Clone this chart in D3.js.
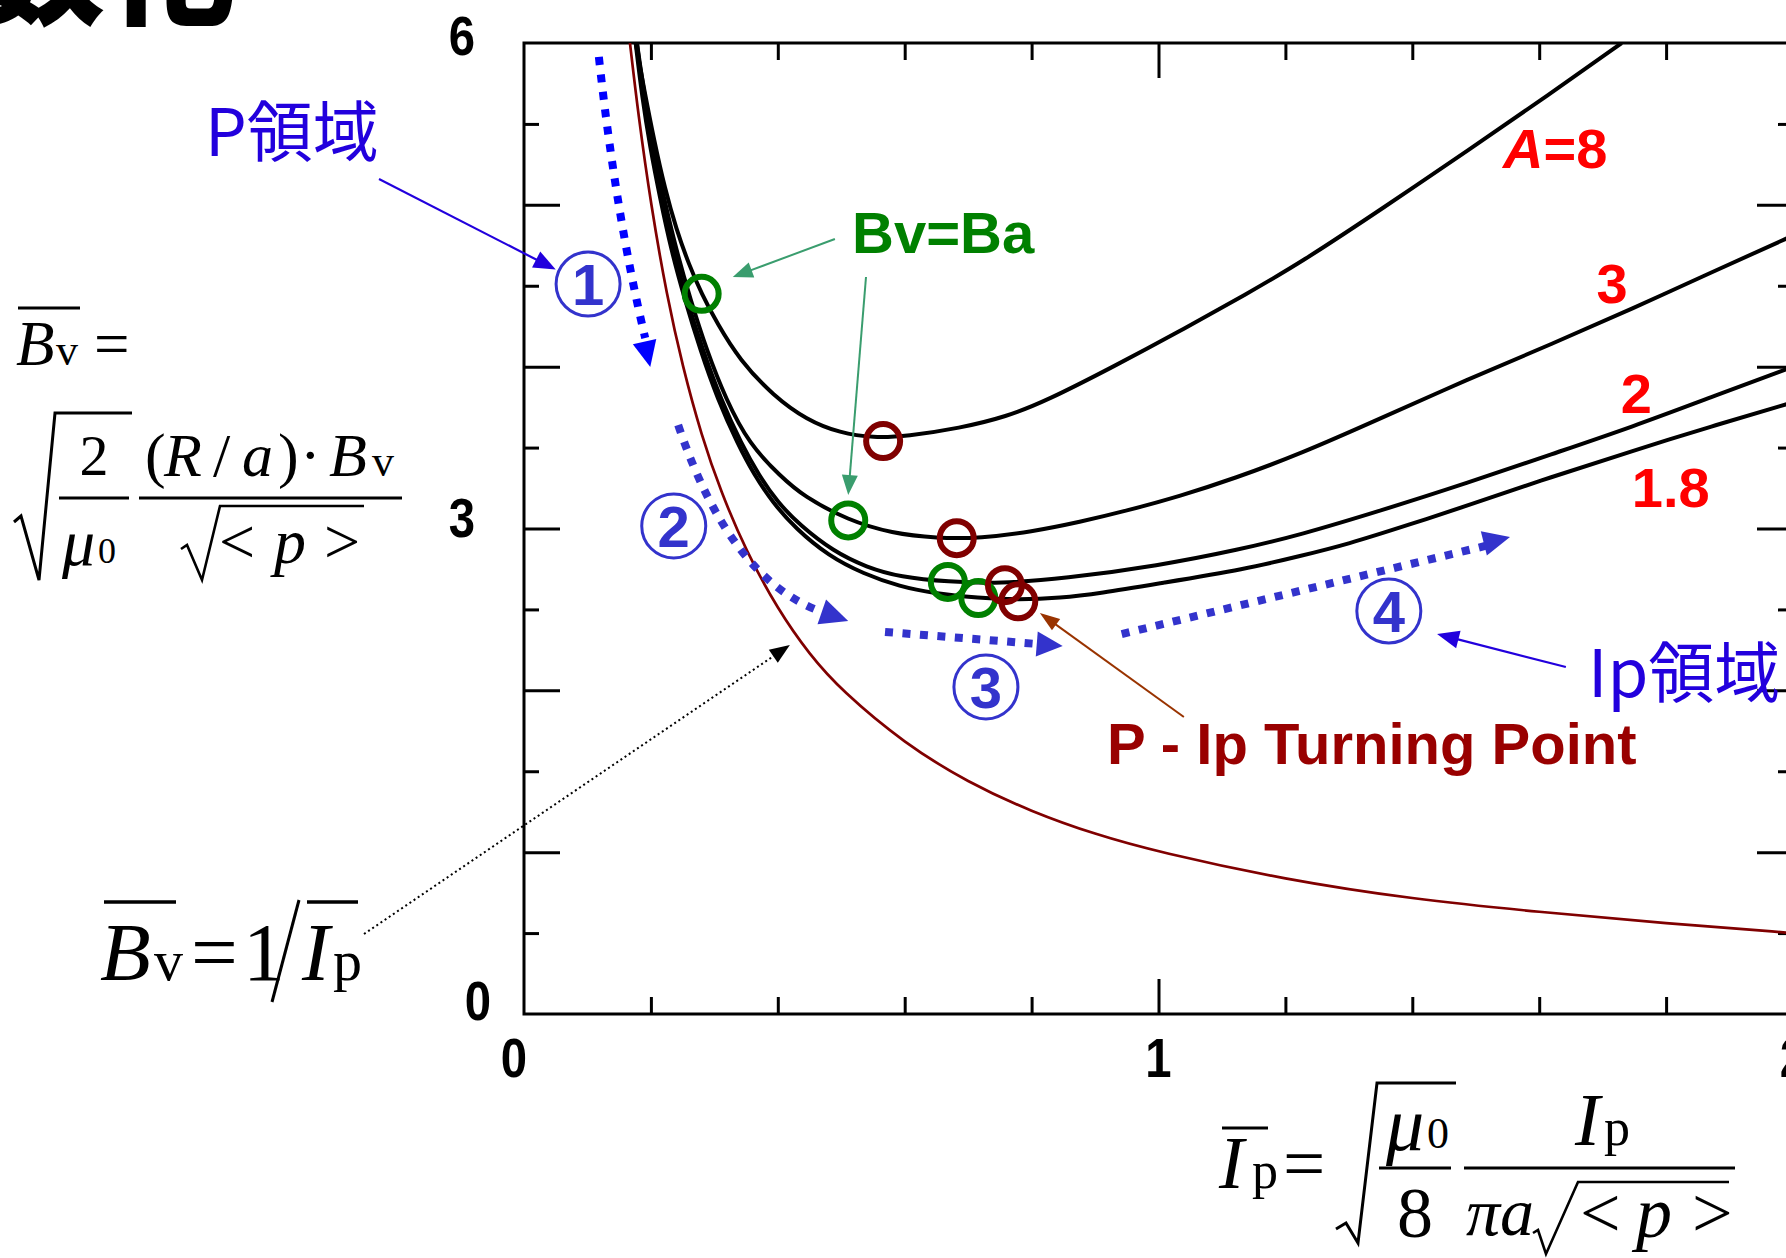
<!DOCTYPE html>
<html>
<head>
<meta charset="utf-8">
<script src="https://cdn.jsdelivr.net/npm/d3@7"></script>
<style>
  html, body { margin: 0; padding: 0; background: #fff; overflow: hidden; }
  svg { display: block; }
</style>
</head>
<body>
<div id="chart"></div>
<script>
const W = 1786, H = 1258;

// ---- data (Ip bar, Bv bar) ----
const xTickValues = [0, 1, 2];
const xTickLabels = ["0", "1", "2"];
const yTickValues = [0, 3, 6];
const yTickLabels = ["0", "3", "6"];

const curveA8 = [[0.176,6.00],[0.190,5.70],[0.205,5.40],[0.222,5.10],[0.240,4.85],[0.260,4.63],
  [0.280,4.45],[0.304,4.27],[0.340,4.04],[0.393,3.82],[0.446,3.67],[0.498,3.59],[0.551,3.56],
  [0.603,3.57],[0.687,3.62],[0.760,3.69],[0.824,3.79],[0.929,4.00],[1.034,4.22],[1.139,4.45],
  [1.223,4.64],[1.354,4.98],[1.489,5.34],[1.615,5.68],[1.730,6.00]];
const curveA3 = [[0.178,6.00],[0.190,5.67],[0.204,5.35],[0.220,5.05],[0.240,4.72],[0.262,4.42],
  [0.288,4.10],[0.318,3.80],[0.355,3.52],[0.405,3.32],[0.440,3.20],[0.511,3.05],[0.580,2.97],
  [0.650,2.94],[0.720,2.94],[0.800,2.98],[0.876,3.04],[0.950,3.11],[1.034,3.20],[1.120,3.31],
  [1.223,3.46],[1.350,3.68],[1.486,3.92],[1.620,4.14],[1.748,4.36],[1.870,4.58],[2.000,4.81]];
const curveA2 = [[0.178,6.00],[0.188,5.67],[0.201,5.35],[0.216,5.05],[0.235,4.72],[0.256,4.42],
  [0.282,4.10],[0.310,3.80],[0.343,3.52],[0.370,3.33],[0.400,3.16],[0.435,3.02],[0.487,2.86],
  [0.540,2.76],[0.593,2.70],[0.668,2.67],[0.750,2.66],[0.850,2.69],[1.000,2.77],[1.128,2.87],
  [1.223,2.96],[1.350,3.11],[1.486,3.28],[1.620,3.46],[1.748,3.63],[1.870,3.81],[2.000,4.00]];
const curveA18 = [[0.176,6.00],[0.186,5.67],[0.199,5.35],[0.214,5.05],[0.232,4.72],[0.253,4.42],
  [0.278,4.10],[0.305,3.80],[0.337,3.52],[0.363,3.33],[0.392,3.16],[0.428,3.00],[0.480,2.83],
  [0.535,2.72],[0.593,2.64],[0.645,2.60],[0.716,2.57],[0.780,2.56],[0.845,2.57],[0.908,2.60],
  [1.000,2.66],[1.139,2.75],[1.223,2.83],[1.296,2.90],[1.400,3.03],[1.486,3.14],[1.620,3.32],
  [1.748,3.48],[1.870,3.63],[2.000,3.78]];
// Bv = 1/Ip line
const curveInverse = [[0.167,6.00],[0.180,5.56],[0.200,5.00],[0.225,4.44],[0.250,4.00],[0.280,3.57],
  [0.310,3.23],[0.350,2.86],[0.400,2.50],[0.450,2.22],[0.500,2.00],[0.600,1.67],[0.700,1.43],
  [0.800,1.25],[0.900,1.11],[1.000,1.00],[1.200,0.83],[1.400,0.71],[1.600,0.63],[1.800,0.56],[2.000,0.50]];

const aspectLabels = ["A=8", "3", "2", "1.8"];
const bvBaPoints = [[0.280,4.45],[0.511,3.05],[0.668,2.67],[0.716,2.57]];
const turningPoints = [[0.566,3.54],[0.682,2.94],[0.758,2.65],[0.779,2.55]];

// ---- layout ----
const x = d3.scaleLinear().domain([0, 2]).range([524, 1793]);
const y = d3.scaleLinear().domain([0, 6]).range([1014, 43]);
const P = (vx, vy) => [x(vx), y(vy)];

const SERIF = "'Liberation Serif','Times New Roman',serif";
const SANS = "'Liberation Sans',Arial,sans-serif";
const CJK = "'Noto Sans CJK JP','Noto Sans',sans-serif";
const BLUE = "#3333cc", INDIGO = "#2200dd";

const svg = d3.select("#chart").append("svg")
              .attr("width", W)
              .attr("height", H);
svg.append("rect").attr("width", W).attr("height", H).attr("fill", "#fff");

// cut-off title at top left
svg.append("text")
   .attr("x", -25).attr("y", 14)
   .attr("font-family", CJK).attr("font-weight", 900).attr("font-size", 130)
   .text("数化");

// ---- ticks ----
function tickAxis(g, axis) {
  g.call(axis);
  g.select(".domain").remove();
  g.selectAll("text").remove();
  g.selectAll("line").attr("stroke", "#000").attr("stroke-width", 3);
}
const xMinor = d3.range(1, 10).map(i => i / 5).filter(v => v !== 1);
const yHalf = d3.range(0, 6).map(i => i + 0.5);
const yInt = [1, 2, 3, 4, 5];

svg.append("g").attr("transform", `translate(0,${y(0)})`).call(tickAxis, d3.axisTop(x).tickValues(xMinor).tickSize(17));
svg.append("g").attr("transform", `translate(0,${y(0)})`).call(tickAxis, d3.axisTop(x).tickValues([1]).tickSize(35));
svg.append("g").attr("transform", `translate(0,${y(6)})`).call(tickAxis, d3.axisBottom(x).tickValues(xMinor).tickSize(17));
svg.append("g").attr("transform", `translate(0,${y(6)})`).call(tickAxis, d3.axisBottom(x).tickValues([1]).tickSize(35));
svg.append("g").attr("transform", `translate(${x(0)},0)`).call(tickAxis, d3.axisRight(y).tickValues(yHalf).tickSize(15));
svg.append("g").attr("transform", `translate(${x(0)},0)`).call(tickAxis, d3.axisRight(y).tickValues(yInt).tickSize(36));
svg.append("g").attr("transform", `translate(${x(2)},0)`).call(tickAxis, d3.axisLeft(y).tickValues(yHalf).tickSize(15));
svg.append("g").attr("transform", `translate(${x(2)},0)`).call(tickAxis, d3.axisLeft(y).tickValues(yInt).tickSize(36));

svg.append("rect")
   .attr("x", x(0)).attr("y", y(6))
   .attr("width", x(2) - x(0)).attr("height", y(0) - y(6))
   .attr("fill", "none").attr("stroke", "#000").attr("stroke-width", 3);

// tick labels (bold, a little condensed)
function tickLabel(cx, base, str) {
  svg.append("text")
     .attr("transform", `translate(${cx},${base}) scale(0.86,1)`)
     .attr("text-anchor", "middle")
     .attr("font-family", SANS).attr("font-weight", "bold").attr("font-size", 55)
     .text(str);
}
xTickValues.forEach((v, i) => tickLabel(x(v) - (v === 0 ? 10 : 0), y(0) + 63, xTickLabels[i]));
yTickValues.forEach((v, i) => tickLabel(v === 0 ? x(0) - 46 : x(0) - 62, y(v) + (v === 0 ? 6 : v === 3 ? 8 : 12), yTickLabels[i]));

// ---- curves ----
svg.append("clipPath").attr("id", "plot-clip")
   .append("rect")
   .attr("x", x(0)).attr("y", y(6))
   .attr("width", x(2) - x(0)).attr("height", y(0) - y(6));

const line = d3.line()
               .x(d => x(d[0]))
               .y(d => y(d[1]))
               .curve(d3.curveBasis);

const plot = svg.append("g").attr("clip-path", "url(#plot-clip)");

plot.append("path")
    .attr("d", line(curveInverse))
    .attr("fill", "none").attr("stroke", "#800000").attr("stroke-width", 2.7);

plot.selectAll("path.aspect")
    .data([curveA8, curveA3, curveA2, curveA18])
    .enter().append("path")
    .attr("class", "aspect")
    .attr("d", d => line(d))
    .attr("fill", "none").attr("stroke", "#000").attr("stroke-width", 4);

plot.selectAll("circle.bvba")
    .data(bvBaPoints)
    .enter().append("circle")
    .attr("class", "bvba")
    .attr("cx", d => x(d[0])).attr("cy", d => y(d[1])).attr("r", 17)
    .attr("fill", "none").attr("stroke", "#008000").attr("stroke-width", 6);

plot.selectAll("circle.turn")
    .data(turningPoints)
    .enter().append("circle")
    .attr("class", "turn")
    .attr("cx", d => x(d[0])).attr("cy", d => y(d[1])).attr("r", 17)
    .attr("fill", "none").attr("stroke", "#800000").attr("stroke-width", 6);

// ---- annotations ----
const ann = svg.append("g");

function head(tip, from, len, hw, color) {
  const dx = tip[0] - from[0], dy = tip[1] - from[1], d = Math.hypot(dx, dy);
  const ux = dx / d, uy = dy / d;
  const bx = tip[0] - ux * len, by = tip[1] - uy * len;
  ann.append("path")
     .attr("d", `M${tip[0]},${tip[1]}L${bx - uy * hw},${by + ux * hw}L${bx + uy * hw},${by - ux * hw}Z`)
     .attr("fill", color);
}

function arrow(from, tip, color, width, len, hw, dash) {
  const dx = tip[0] - from[0], dy = tip[1] - from[1], d = Math.hypot(dx, dy);
  const end = [tip[0] - dx / d * len * 0.8, tip[1] - dy / d * len * 0.8];
  ann.append("line")
     .attr("x1", from[0]).attr("y1", from[1]).attr("x2", end[0]).attr("y2", end[1])
     .attr("stroke", color).attr("stroke-width", width)
     .attr("stroke-dasharray", dash || null);
  head(tip, from, len, hw, color);
}

function dotted(pts, tip, color, len, hw) {
  const path = pts.length === 3
    ? `M${pts[0]}Q${pts[1]} ${pts[2]}`
    : `M${pts[0]}L${pts[1]}`;
  ann.append("path")
     .attr("d", path)
     .attr("fill", "none").attr("stroke", color)
     .attr("stroke-width", 8).attr("stroke-dasharray", "8 9.5");
  head(tip, pts[pts.length - 2], len, hw, color);
}

// phase arrows 1..4
dotted([P(0.118, 5.914), P(0.145, 4.937), P(0.191, 4.177)], P(0.199, 3.998), "#0000ff", 26, 12);
dotted([P(0.243, 3.640), P(0.325, 2.682), P(0.470, 2.484)], P(0.511, 2.428), BLUE, 28, 13);
dotted([P(0.569, 2.361), P(0.810, 2.286)], P(0.849, 2.274), BLUE, 26, 12.5);
dotted([P(0.942, 2.348), P(1.515, 2.892)], P(1.554, 2.948), BLUE, 27, 12.5);

// circled phase numbers
const phaseCenters = [[0.101, 4.511], [0.236, 3.016], [0.728, 2.021], [1.363, 2.490]];
phaseCenters.forEach((c, i) => {
  const [cx, cy] = P(c[0], c[1]);
  ann.append("circle").attr("cx", cx).attr("cy", cy).attr("r", 32)
     .attr("fill", "none").attr("stroke", BLUE).attr("stroke-width", 3);
  ann.append("text").attr("x", cx).attr("y", cy + 21)
     .attr("text-anchor", "middle")
     .attr("font-family", SANS).attr("font-weight", "bold").attr("font-size", 58)
     .attr("fill", BLUE).text(String(i + 1));
});

// region labels
ann.append("text").attr("x", 205).attr("y", 156)
   .attr("font-family", CJK).attr("font-size", 66).attr("fill", INDIGO).text("P領域");
arrow([379, 179], P(0.050, 4.600), INDIGO, 2.2, 22, 9);

ann.append("text").attr("x", x(1.677)).attr("y", y(1.959))
   .attr("font-family", CJK).attr("font-size", 66).attr("fill", INDIGO).text("Ip領域");
arrow(P(1.642, 2.144), P(1.439, 2.348), INDIGO, 2.2, 22, 9);

// Bv = Ba
ann.append("text").attr("x", x(0.517)).attr("y", y(4.702))
   .attr("font-family", SANS).attr("font-weight", "bold").attr("font-size", 58)
   .attr("fill", "#008000").text("Bv=Ba");
arrow(P(0.490, 4.789), P(0.329, 4.554), "#3a9d6e", 2, 20, 8);
arrow(P(0.539, 4.554), P(0.511, 3.207), "#3a9d6e", 2, 20, 8);

// turning point
ann.append("text").attr("x", x(0.919)).attr("y", y(1.545))
   .attr("font-family", SANS).attr("font-weight", "bold").attr("font-size", 58)
   .attr("fill", "#990000").text("P - Ip Turning Point");
arrow(P(1.040, 1.835), P(0.813, 2.478), "#993300", 2, 20, 7);

// aspect ratio labels
const aspectPos = [[1.543, 5.228, "start"], [1.715, 4.394, "middle"], [1.753, 3.714, "middle"], [1.746, 3.133, "start"]];
aspectLabels.forEach((lab, i) => {
  const t = ann.append("text").attr("x", x(aspectPos[i][0])).attr("y", y(aspectPos[i][1]))
     .attr("text-anchor", aspectPos[i][2])
     .attr("font-family", SANS).attr("font-weight", "bold").attr("font-size", 56)
     .attr("fill", "#ff0000");
  if (lab.startsWith("A")) {
    t.append("tspan").attr("font-style", "italic").text("A");
    t.append("tspan").text(lab.slice(1));
  } else {
    t.text(lab);
  }
});

// dotted pointer from the Bv = 1/Ip formula
arrow([364, 934], P(0.419, 2.280), "#000", 2, 20, 8, "2 3");

// ---- formulas ----
const fm = svg.append("g").attr("fill", "#000");
function tx(px, py, str, size, italic, anchor) {
  fm.append("text").attr("x", px).attr("y", py)
    .attr("font-family", SERIF).attr("font-size", size)
    .attr("font-style", italic ? "italic" : "normal")
    .attr("text-anchor", anchor || "start")
    .text(str);
}
function stroke(d, w) {
  fm.append("path").attr("d", d).attr("fill", "none").attr("stroke", "#000")
    .attr("stroke-width", w || 3).attr("stroke-linejoin", "miter");
}

// Bv =
stroke("M18,308L80,308");
tx(16, 365, "B", 63, true);
tx(56, 365, "v", 44, false);
tx(94, 365, "=", 63, false);
// sqrt(2/mu0) (R/a)·Bv / sqrt(<p>)
stroke("M14,522L21,516L39,580L55,413L132,413", 3);
tx(94, 475, "2", 58, false, "middle");
stroke("M59,498L129,498");
tx(62, 565, "μ", 66, true);
tx(98, 563, "0", 36, false);
tx(145, 476, "(", 62, false);
tx(164, 476, "R", 62, true);
tx(213, 476, "/", 62, false);
tx(242, 476, "a", 62, true);
tx(278, 476, ")", 62, false);
tx(300, 476, "·", 62, false);
tx(329, 476, "B", 62, true);
tx(372, 476, "v", 44, false);
stroke("M139,498L402,498");
stroke("M181,549L187,545L202,580L220,506L364,506", 2.6);
tx(219, 563, "<", 64, false);
tx(274, 563, "p", 64, true);
tx(324, 563, ">", 64, false);

// Bv = 1/Ip
stroke("M104,902L176,902", 3.5);
tx(100, 980, "B", 83, true);
tx(154, 980, "v", 58, false);
tx(191, 980, "=", 83, false);
tx(243, 980, "1", 83, false);
stroke("M272,1002L299,900", 3);
stroke("M307,902L358,902", 3.5);
tx(302, 980, "I", 83, true);
tx(333, 980, "p", 58, false);

// Ip = sqrt(mu0/8) Ip / (pi a sqrt(<p>))
stroke("M1222,1128L1268,1128", 3);
tx(1219, 1188, "I", 75, true);
tx(1252, 1188, "p", 52, false);
tx(1283, 1188, "=", 75, false);
stroke("M1336,1229L1346,1223L1358,1243L1377,1083L1456,1083", 3);
tx(1386, 1150, "μ", 76, true);
tx(1427, 1148, "0", 44, false);
stroke("M1379,1168L1451,1168");
tx(1415, 1237, "8", 72, false, "middle");
tx(1575, 1145, "I", 75, true);
tx(1604, 1145, "p", 52, false);
stroke("M1464,1168L1735,1168");
tx(1466, 1235, "πa", 68, true);
stroke("M1533,1233L1538,1230L1546,1254L1578,1182L1729,1182", 2.6);
tx(1580, 1237, "<", 72, false);
tx(1636, 1237, "p", 72, true);
tx(1692, 1237, ">", 72, false);
</script>
</body>
</html>
